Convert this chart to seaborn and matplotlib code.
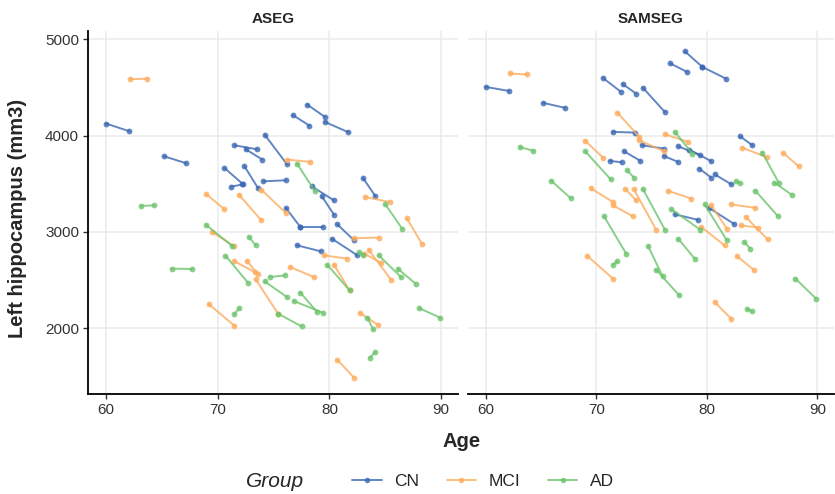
import numpy as np
import pandas as pd
import matplotlib
matplotlib.use("Agg")
import matplotlib.pyplot as plt
import seaborn as sns
from matplotlib.lines import Line2D

# ---------------- data ----------------
methods = ["ASEG", "SAMSEG"]
groups = ["CN", "MCI", "AD"]

cn_age_bl = [60.0, 65.2, 71.5, 72.5, 74.2, 70.6, 71.2, 72.4, 74.1, 76.1,
             77.4, 78.0, 76.7, 79.6, 78.4, 79.3, 77.1, 80.7, 80.2, 83.0]
cn_age_fu = [62.1, 67.2, 73.5, 74.0, 76.2, 72.2, 72.3, 73.6, 76.1, 77.4,
             79.4, 79.6, 78.2, 81.7, 80.4, 80.4, 79.2, 82.2, 82.5, 84.1]
cn_aseg_bl = [4125, 3785, 3899, 3858, 4010, 3664, 3470, 3681, 3525, 3248,
              3051, 4322, 4214, 4141, 3474, 3373, 2861, 3079, 2931, 3560]
cn_aseg_fu = [4045, 3712, 3858, 3751, 3702, 3502, 3494, 3456, 3536, 3051,
              3051, 4193, 4104, 4034, 3328, 3180, 2799, 2913, 2757, 3373]
cn_samseg_bl = [4505, 4339, 4038, 3837, 4498, 4598, 3737, 4533, 3900, 3789,
                3889, 4875, 4748, 4712, 3855, 3658, 3183, 3598, 3249, 3993]
cn_samseg_fu = [4463, 4287, 4031, 3737, 4245, 4457, 3723, 4436, 3865, 3726,
                3796, 4712, 4661, 4592, 3734, 3564, 3125, 3495, 3080, 3900]

mci_age_bl = [62.2, 69.0, 71.9, 73.9, 76.2, 69.5, 71.5, 72.6, 73.4, 76.5,
              79.5, 82.2, 80.4, 83.1, 83.5, 83.2, 86.9, 69.2, 82.7, 80.7]
mci_age_fu = [63.7, 70.6, 73.9, 76.1, 78.3, 71.5, 73.3, 73.6, 75.4, 78.6,
              81.6, 84.4, 81.8, 84.6, 85.5, 85.4, 88.3, 71.5, 84.3, 82.2]
mci_aseg_bl = [4585, 3390, 3387, 3439, 3751, 3000, 2695, 2702, 2508, 2635,
               2757, 2934, 2660, 2775, 2816, 3362, 3145, 2251, 2162, 1674]
mci_aseg_fu = [4590, 3235, 3120, 3196, 3726, 2850, 2584, 2560, 2152, 2532,
               2723, 2941, 2393, 2681, 2505, 3310, 2871, 2027, 2038, 1487]
mci_samseg_bl = [4644, 3944, 4239, 3951, 4014, 3453, 3277, 3450, 3443, 3426,
                 3051, 3285, 3276, 3068, 3157, 3875, 3820, 2750, 2750, 2272]
mci_samseg_fu = [4634, 3772, 3986, 3837, 3934, 3311, 3162, 3328, 3024, 3346,
                 2861, 3250, 3035, 3045, 2922, 3775, 3681, 2516, 2602, 2100]

ad_age_bl = [63.1, 77.1, 69.0, 72.8, 65.9, 70.7, 74.2, 74.7, 71.5, 79.8,
             82.6, 84.4, 86.1, 85.0, 77.4, 76.8, 75.4, 83.4, 88.0, 83.6]
ad_age_fu = [64.3, 78.7, 71.3, 73.4, 67.7, 72.7, 76.2, 76.0, 71.9, 81.8,
             83.0, 86.4, 87.7, 86.5, 78.9, 79.4, 77.5, 83.9, 89.9, 84.1]
ad_aseg_bl = [3269, 3709, 3069, 2948, 2619, 2754, 2487, 2532, 2144, 2660,
              2791, 2757, 2619, 3287, 2370, 2283, 2152, 2110, 2210, 1695]
ad_aseg_fu = [3276, 3422, 2854, 2861, 2615, 2474, 2324, 2549, 2210, 2393,
              2764, 2532, 2463, 3034, 2169, 2162, 2020, 1989, 2110, 1753]
ad_samseg_bl = [3879, 4038, 3837, 3640, 3533, 3162, 3450, 2851, 2660, 3287,
                3526, 3426, 3512, 3824, 2931, 3235, 2609, 2896, 2516, 2203]
ad_samseg_fu = [3844, 3813, 3546, 3564, 3349, 2775, 3024, 2539, 2694, 2913,
                3508, 3167, 3384, 3512, 2723, 3024, 2342, 2827, 2306, 2176]

y_ticks = [2000, 3000, 4000, 5000]
x_ticks = [60, 70, 80, 90]

# ---------------- build long table ----------------
table = {
    "CN": (cn_age_bl, cn_age_fu, cn_aseg_bl, cn_aseg_fu, cn_samseg_bl, cn_samseg_fu),
    "MCI": (mci_age_bl, mci_age_fu, mci_aseg_bl, mci_aseg_fu, mci_samseg_bl, mci_samseg_fu),
    "AD": (ad_age_bl, ad_age_fu, ad_aseg_bl, ad_aseg_fu, ad_samseg_bl, ad_samseg_fu),
}
rows = []
for g, (abl, afu, asbl, asfu, ssbl, ssfu) in table.items():
    for i in range(len(abl)):
        sid = f"{g}{i}"
        rows.append(("ASEG", g, sid, abl[i], asbl[i]))
        rows.append(("ASEG", g, sid, afu[i], asfu[i]))
        rows.append(("SAMSEG", g, sid, abl[i], ssbl[i]))
        rows.append(("SAMSEG", g, sid, afu[i], ssfu[i]))
df = pd.DataFrame(rows, columns=["Method", "Group", "Subject", "Age", "Volume"])

# ---------------- style ----------------
sns.set_theme(style="white")
plt.rcParams["font.family"] = ["Liberation Sans", "DejaVu Sans"]
palette = {"CN": "#3a68b4", "MCI": "#fdac5c", "AD": "#6cc46c"}

W, H = 835, 494
fig = plt.figure(figsize=(W / 100, H / 100), dpi=100)
top_px, bot_px = 31, 394
ax1 = fig.add_axes([88 / W, 1 - bot_px / H, 370 / W, (bot_px - top_px) / H])
ax2 = fig.add_axes([468 / W, 1 - bot_px / H, 366 / W, (bot_px - top_px) / H])

for ax, m in zip([ax1, ax2], methods):
    sub = df[df["Method"] == m]
    sns.lineplot(data=sub, x="Age", y="Volume", hue="Group", hue_order=groups,
                 units="Subject", estimator=None, palette=palette, marker="o",
                 markersize=4.2, markeredgewidth=0, linewidth=1.4, alpha=0.8,
                 legend=False, ax=ax)
    ax.set_xlim(58.4, 91.5)
    ax.set_ylim(1318, 5085)
    ax.set_xticks(x_ticks)
    ax.set_yticks(y_ticks)
    ax.grid(True, color="#ebebeb", linewidth=1.1)
    ax.set_axisbelow(True)
    ax.set_xlabel("")
    ax.set_ylabel("")
    for s in ["top", "right"]:
        ax.spines[s].set_visible(False)
    ax.spines["bottom"].set_color("black")
    ax.spines["bottom"].set_linewidth(1.3)
    ax.tick_params(axis="x", length=3.5, width=1, color="#333333",
                   labelsize=11, labelcolor="#333333", pad=3, bottom=True)
    ax.set_title(m, fontsize=11, fontweight="bold", pad=6)

ax1.spines["left"].set_color("black")
ax1.spines["left"].set_linewidth(1.3)
ax1.tick_params(axis="y", length=3.5, width=1, color="#333333",
                labelsize=11, labelcolor="#333333", pad=3, left=True)
ax2.spines["left"].set_visible(False)
ax2.tick_params(axis="y", left=False, labelleft=False)

fig.text(462 / W, 1 - 441 / H, "Age", ha="center", va="center",
         fontsize=14.5, fontweight="bold")
fig.text(18 / W, 1 - 218 / H, "Left hippocampus (mm3)", ha="center",
         va="center", rotation=90, fontsize=14.5, fontweight="bold")

# legend
handles = [Line2D([0], [0], color=palette[g], marker="o", markersize=4,
                  markeredgewidth=0, linewidth=1.4, alpha=0.8) for g in groups]
fig.text(275 / W, 1 - 481 / H, "Group", ha="center", va="center",
         fontsize=15, fontstyle="italic")
fig.legend(handles, groups, loc="center", bbox_to_anchor=(483 / W, 1 - 481 / H),
           ncol=3, frameon=False, fontsize=12.5, handlelength=1.7,
           handletextpad=0.7, columnspacing=1.6)

fig.savefig("out.png", dpi=100)
